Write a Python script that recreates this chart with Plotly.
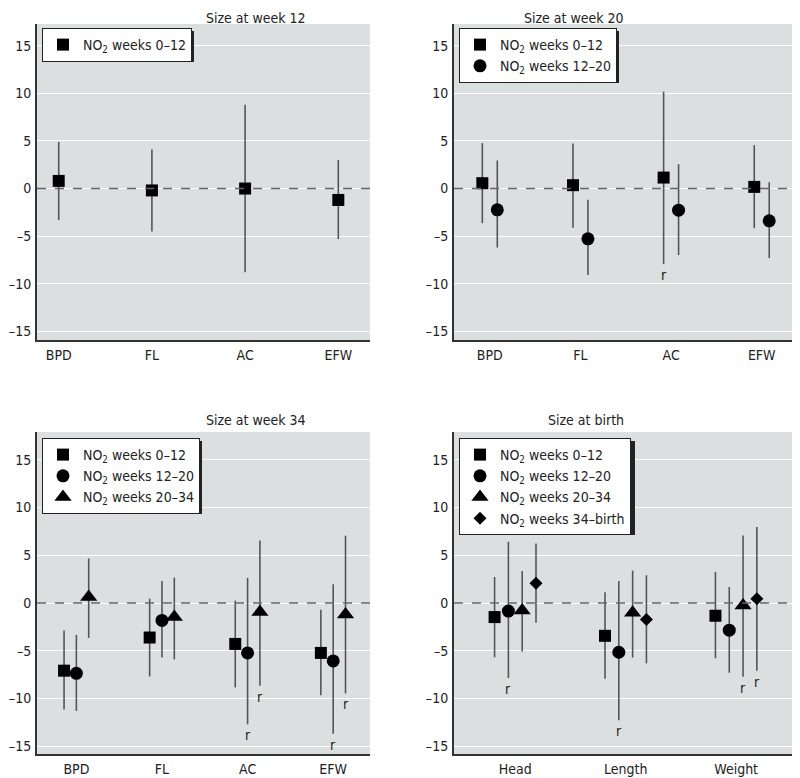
import plotly.graph_objects as go

# ---------------- data ----------------
cats_fetal = ["BPD", "FL", "AC", "EFW"]
cats_birth = ["Head", "Length", "Weight"]
series_names = ["NO<sub>2</sub> weeks 0–12", "NO<sub>2</sub> weeks 12–20",
                "NO<sub>2</sub> weeks 20–34", "NO<sub>2</sub> weeks 34–birth"]

# Panel 1: Size at week 12
w12_s0 = [0.8, -0.2, 0.0, -1.2]
w12_s0_lo = [-3.3, -4.5, -8.8, -5.3]
w12_s0_hi = [4.9, 4.1, 8.8, 3.0]
w12_s0_r = [False, False, False, False]

# Panel 2: Size at week 20
w20_s0 = [0.56, 0.35, 1.15, 0.17]
w20_s0_lo = [-3.64, -4.13, -7.94, -4.16]
w20_s0_hi = [4.76, 4.72, 10.17, 4.55]
w20_s0_r = [False, False, True, False]
w20_s1 = [-2.24, -5.28, -2.27, -3.39]
w20_s1_lo = [-6.19, -9.09, -6.99, -7.31]
w20_s1_hi = [2.94, -1.19, 2.55, 0.66]
w20_s1_r = [False, False, False, False]

# Panel 3: Size at week 34
w34_s0 = [-7.08, -3.61, -4.28, -5.22]
w34_s0_lo = [-11.15, -7.68, -8.83, -9.64]
w34_s0_hi = [-2.87, 0.46, 0.25, -0.7]
w34_s0_r = [False, False, False, False]
w34_s1 = [-7.36, -1.82, -5.22, -6.06]
w34_s1_lo = [-11.29, -5.71, -12.69, -13.67]
w34_s1_hi = [-3.33, 2.31, 2.63, 1.96]
w34_s1_r = [False, False, True, True]
w34_s2 = [0.63, -1.47, -0.95, -1.19]
w34_s2_lo = [-3.65, -5.89, -8.66, -9.46]
w34_s2_hi = [4.66, 2.66, 6.55, 7.05]
w34_s2_r = [False, False, True, True]

# Panel 4: Size at birth
b_s0 = [-1.47, -3.43, -1.33]
b_s0_lo = [-5.68, -7.92, -5.78]
b_s0_hi = [2.73, 1.12, 3.26]
b_s0_r = [False, False, False]
b_s1 = [-0.84, -5.15, -2.84]
b_s1_lo = [-7.85, -12.27, -7.29]
b_s1_hi = [6.41, 2.31, 1.68]
b_s1_r = [True, True, False]
b_s2 = [-0.77, -1.02, -0.25]
b_s2_lo = [-5.08, -5.71, -7.71]
b_s2_hi = [3.36, 3.4, 7.08]
b_s2_r = [False, False, True]
b_s3 = [2.07, -1.72, 0.46]
b_s3_lo = [-2.07, -6.31, -7.08]
b_s3_hi = [6.24, 2.91, 7.96]
b_s3_r = [False, False, True]

y_ticks = [-15, -10, -5, 0, 5, 10, 15]
y_ticktext = ["–15", "–10", "–5", "0", "5", "10", "15"]

# ---------------- styles ----------------
FONT = "DejaVu Sans Condensed, Liberation Sans Narrow, Arial Narrow, sans-serif"
FS = 14
BG = "#dcdfe0"
WHISKER = "#555555"
symbols = ["square", "circle", "triangle-up", "diamond"]
msizes = [12, 13, 15, 10]

OFF = 8  # page body margin
W, H = 800 - OFF, 778 - OFF


def px(v):
    return v - OFF


# panel boxes in page pixels: (left, right, top, bottom) and y ranges (same px/unit)
boxes = [(37, 370, 24, 340), (454, 798, 24, 340), (37, 370, 432, 754), (454, 798, 432, 754)]
yranges = [[-15.9, 17.27], [-15.9, 17.27], [-15.8, 17.9], [-15.8, 17.9]]
xranges = [[-0.233, 3.34], [-0.395, 3.40], [-0.46, 3.43], [-0.555, 2.56]]
steps = [0.0, 0.165, 0.144, 0.125]
titles = ["Size at week 12", "Size at week 20", "Size at week 34", "Size at birth"]
title_y = [None, None, 420, 420]
# legend left/top (page px) and estimated size
legpos = [(42, 28), (459, 28), (42, 438), (459, 438)]
legsize = [(149, 31), (157, 52), (157, 73), (173, 94)]

panels = [
    (cats_fetal, [(w12_s0, w12_s0_lo, w12_s0_hi, w12_s0_r)]),
    (cats_fetal, [(w20_s0, w20_s0_lo, w20_s0_hi, w20_s0_r),
                  (w20_s1, w20_s1_lo, w20_s1_hi, w20_s1_r)]),
    (cats_fetal, [(w34_s0, w34_s0_lo, w34_s0_hi, w34_s0_r),
                  (w34_s1, w34_s1_lo, w34_s1_hi, w34_s1_r),
                  (w34_s2, w34_s2_lo, w34_s2_hi, w34_s2_r)]),
    (cats_birth, [(b_s0, b_s0_lo, b_s0_hi, b_s0_r),
                  (b_s1, b_s1_lo, b_s1_hi, b_s1_r),
                  (b_s2, b_s2_lo, b_s2_hi, b_s2_r),
                  (b_s3, b_s3_lo, b_s3_hi, b_s3_r)]),
]

fig = go.Figure()
annotations = []
shapes = []
layout = {}

for p, (cats, series) in enumerate(panels):
    ax = "" if p == 0 else str(p + 1)
    xa, ya = "x" + ax, "y" + ax
    leg = "legend" if p == 0 else "legend" + str(p + 1)
    n = len(series)
    for s, (vals, lo, hi, rflags) in enumerate(series):
        off = (s - (n - 1) / 2) * steps[p]
        xs = [i + off for i in range(len(cats))]
        fig.add_trace(go.Scatter(
            x=xs, y=vals, mode="markers", name=series_names[s],
            xaxis=xa, yaxis=ya, legend=leg,
            marker=dict(symbol=symbols[s], size=msizes[s], color="black"),
            error_y=dict(type="data", symmetric=False,
                         array=[h - v for h, v in zip(hi, vals)],
                         arrayminus=[v - l for v, l in zip(vals, lo)],
                         color=WHISKER, thickness=1.6, width=0),
            hoverinfo="skip",
        ))
        for i, flag in enumerate(rflags):
            if flag:
                annotations.append(dict(x=xs[i], y=lo[i], xref=xa, yref=ya, text="r",
                                        showarrow=False, yanchor="top", yshift=-1,
                                        font=dict(size=FS, color="#222", family=FONT)))
    l, r, t, b = [px(v) for v in boxes[p]]
    layout["xaxis" + ax] = dict(domain=[l / W, min(r / W, 1.0)], range=xranges[p], anchor=ya,
                                tickvals=list(range(len(cats))), ticktext=cats,
                                showgrid=False, zeroline=False, showline=True, automargin=False,
                                linecolor="#333", linewidth=2, ticks="", ticklabelstandoff=1,
                                tickfont=dict(size=FS, color="#222", family=FONT))
    layout["yaxis" + ax] = dict(domain=[1 - b / H, 1 - t / H], range=yranges[p], anchor=xa,
                                tickvals=y_ticks, ticktext=y_ticktext,
                                showgrid=True, gridcolor="white", gridwidth=1.3,
                                zeroline=False, showline=True, linecolor="#333", linewidth=2,
                                ticks="", ticklabelstandoff=1, automargin=False,
                                tickfont=dict(size=FS, color="#222", family=FONT))
    # zero dashed line
    shapes.append(dict(type="line", xref=xa + " domain", yref=ya, x0=0, x1=1, y0=0, y1=0,
                       line=dict(color="#666", width=1.6, dash="dash"), layer="above"))
    # title
    if title_y[p] is None:
        annotations.append(dict(x=(l + r) / 2 / W, y=1.0, xref="paper", yref="paper",
                                text=titles[p], showarrow=False, yanchor="top",
                                font=dict(size=FS, color="#222", family=FONT)))
    else:
        annotations.append(dict(x=(l + r) / 2 / W, y=1 - px(title_y[p]) / H, xref="paper",
                                yref="paper", text=titles[p], showarrow=False, yanchor="middle",
                                font=dict(size=FS, color="#222", family=FONT)))
    # legend shadow
    lx0, ly0 = px(legpos[p][0]), px(legpos[p][1])
    lw, lh = legsize[p]
    shapes.append(dict(type="rect", xref="paper", yref="paper",
                       x0=(lx0 + 3) / W, x1=(lx0 + lw + 3) / W,
                       y0=1 - (ly0 + lh + 3) / H, y1=1 - (ly0 + 3) / H,
                       fillcolor="#222", line=dict(width=0), layer="above"))
    layout[leg] = dict(x=lx0 / W, y=1 - ly0 / H, xanchor="left", yanchor="top",
                       bgcolor="white", bordercolor="#222", borderwidth=1,
                       font=dict(size=FS, color="#222", family=FONT),
                       tracegroupgap=0, itemwidth=30)

fig.update_layout(**layout)
fig.update_layout(width=W, height=H, margin=dict(l=0, r=0, t=0, b=0, autoexpand=False),
                  plot_bgcolor=BG, paper_bgcolor="white", showlegend=True,
                  annotations=annotations, shapes=shapes,
                  font=dict(family=FONT, color="#222"))

fig.write_html("out.html")
